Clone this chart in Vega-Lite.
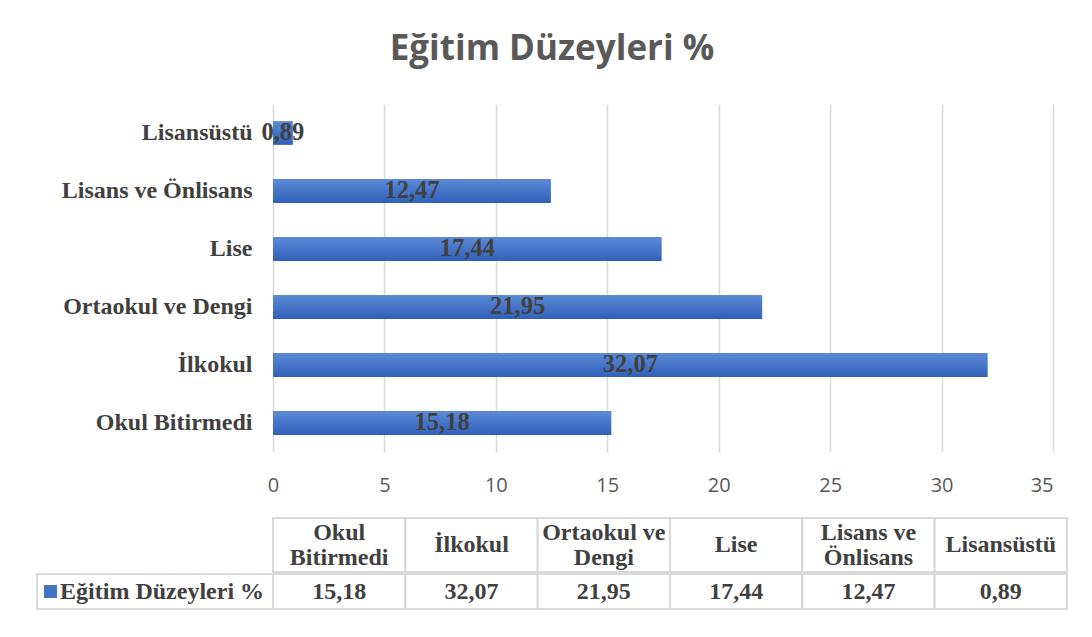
{
  "$schema": "https://vega.github.io/schema/vega-lite/v6.json",
  "background": "white",
  "padding": {"left": 36, "top": 32, "right": 20, "bottom": 20},
  "title": {
    "text": "Eğitim Düzeyleri %",
    "font": "Open Sans",
    "fontSize": 35,
    "fontWeight": "bold",
    "color": "#595959",
    "anchor": "middle",
    "offset": 37
  },
  "datasets": {
    "egitim": [
      {"kategori": "Okul Bitirmedi", "baslik": "Okul\nBitirmedi", "deger": 15.18},
      {"kategori": "İlkokul", "baslik": "İlkokul", "deger": 32.07},
      {"kategori": "Ortaokul ve Dengi", "baslik": "Ortaokul ve\nDengi", "deger": 21.95},
      {"kategori": "Lise", "baslik": "Lise", "deger": 17.44},
      {"kategori": "Lisans ve Önlisans", "baslik": "Lisans ve\nÖnlisans", "deger": 12.47},
      {"kategori": "Lisansüstü", "baslik": "Lisansüstü", "deger": 0.89}
    ],
    "seri": [
      {"seri": "Eğitim Düzeyleri %"}
    ]
  },
  "spacing": 22,
  "vconcat": [
    {
      "width": 1016,
      "height": 348,
      "data": {"name": "egitim"},
      "encoding": {
        "y": {
          "field": "kategori",
          "type": "nominal",
          "sort": ["Lisansüstü", "Lisans ve Önlisans", "Lise", "Ortaokul ve Dengi", "İlkokul", "Okul Bitirmedi"],
          "scale": {"paddingInner": 0.59, "paddingOuter": 0.295},
          "axis": {
            "title": null,
            "domain": false,
            "ticks": false,
            "tickSize": 0,
            "offset": -236,
            "labelFont": "Liberation Serif",
            "labelFontWeight": "bold",
            "labelFontSize": 24,
            "labelColor": "#404040",
            "labelPadding": 21,
            "labelLimit": 0
          }
        }
      },
      "layer": [
        {
          "mark": {
            "type": "bar",
            "color": {
              "gradient": "linear",
              "x1": 0, "y1": 0, "x2": 0, "y2": 1,
              "stops": [
                {"offset": 0, "color": "#5B8AD6"},
                {"offset": 1, "color": "#3160BA"}
              ]
            }
          },
          "encoding": {
            "x": {
              "field": "deger",
              "type": "quantitative",
              "scale": {"domain": [-10.59, 35], "nice": false, "zero": false},
              "axis": {
                "title": null,
                "values": [0, 5, 10, 15, 20, 25, 30, 35],
                "format": "d",
                "domain": false,
                "ticks": false,
                "tickSize": 0,
                "grid": true,
                "gridColor": "#d9d9d9",
                "gridWidth": 1.5,
                "labelFont": "Open Sans",
                "labelFontSize": 20,
                "labelColor": "#595959",
                "labelPadding": 23
              }
            }
          }
        },
        {
          "mark": {
            "type": "text",
            "font": "Liberation Serif",
            "fontWeight": "bold",
            "fontSize": 24.5,
            "color": "#404040",
            "align": "center",
            "baseline": "middle"
          },
          "encoding": {
            "x": {
              "field": "deger",
              "type": "quantitative",
              "scale": {"domain": [-21.18, 70], "nice": false, "zero": false},
              "axis": null
            },
            "text": {"field": "deger", "type": "quantitative", "format": ".2f"}
          }
        }
      ],
      "resolve": {"scale": {"x": "independent"}}
    },
    {
      "spacing": 0,
      "vconcat": [
        {
          "width": 1030,
          "height": 54,
          "data": {"name": "egitim"},
          "encoding": {
            "x": {
              "field": "kategori",
              "type": "nominal",
              "sort": ["Okul Bitirmedi", "İlkokul", "Ortaokul ve Dengi", "Lise", "Lisans ve Önlisans", "Lisansüstü"],
              "scale": {"paddingInner": 0, "paddingOuter": 0.8917, "align": 1},
              "axis": null
            }
          },
          "layer": [
            {
              "mark": {"type": "rect", "fill": "white", "stroke": "#d9d9d9", "strokeWidth": 2}
            },
            {
              "transform": [{"filter": "indexof(datum.baslik, '\\n') < 0"}],
              "mark": {
                "type": "text",
                "font": "Liberation Serif",
                "fontWeight": "bold",
                "fontSize": 24,
                "color": "#404040",
                "align": "center",
                "baseline": "middle"
              },
              "encoding": {"text": {"field": "baslik", "type": "nominal"}}
            },
            {
              "transform": [{"filter": "indexof(datum.baslik, '\\n') >= 0"}],
              "mark": {
                "type": "text",
                "font": "Liberation Serif",
                "fontWeight": "bold",
                "fontSize": 24,
                "color": "#404040",
                "align": "center",
                "baseline": "middle",
                "lineBreak": "\n",
                "lineHeight": 25,
                "dy": -12.5
              },
              "encoding": {"text": {"field": "baslik", "type": "nominal"}}
            }
          ]
        },
        {
          "width": 1030,
          "height": 35,
          "layer": [
            {
              "data": {"name": "egitim"},
              "encoding": {
                "x": {
                  "field": "kategori",
                  "type": "nominal",
                  "sort": ["Okul Bitirmedi", "İlkokul", "Ortaokul ve Dengi", "Lise", "Lisans ve Önlisans", "Lisansüstü"],
                  "scale": {"paddingInner": 0, "paddingOuter": 0.8917, "align": 1},
                  "axis": null
                }
              },
              "layer": [
                {
                  "mark": {"type": "rect", "fill": "white", "stroke": "#d9d9d9", "strokeWidth": 2}
                },
                {
                  "mark": {
                    "type": "text",
                    "font": "Liberation Serif",
                    "fontWeight": "bold",
                    "fontSize": 24,
                    "color": "#404040",
                    "align": "center",
                    "baseline": "middle"
                  },
                  "encoding": {"text": {"field": "deger", "type": "quantitative", "format": ".2f"}}
                }
              ]
            },
            {
              "data": {"name": "seri"},
              "encoding": {
                "x": {
                  "field": "seri",
                  "type": "nominal",
                  "scale": {"domain": ["Eğitim Düzeyleri %", " ", "  "], "paddingInner": 0, "paddingOuter": 0.6822, "align": 0},
                  "axis": null
                }
              },
              "layer": [
                {
                  "mark": {"type": "rect", "fill": "white", "stroke": "#d9d9d9", "strokeWidth": 2}
                },
                {
                  "mark": {"type": "square", "size": 169, "filled": true, "color": "#4472C4", "opacity": 1},
                  "encoding": {"x": {"field": "seri", "type": "nominal", "bandPosition": 0.057}}
                },
                {
                  "mark": {
                    "type": "text",
                    "font": "Liberation Serif",
                    "fontWeight": "bold",
                    "fontSize": 24,
                    "color": "#404040",
                    "align": "center",
                    "baseline": "middle"
                  },
                  "encoding": {
                    "x": {"field": "seri", "type": "nominal", "bandPosition": 0.53},
                    "text": {"field": "seri", "type": "nominal"}
                  }
                }
              ]
            }
          ],
          "resolve": {"scale": {"x": "independent"}}
        }
      ]
    }
  ],
  "config": {
    "view": {"stroke": null},
    "locale": {
      "number": {"decimal": ",", "thousands": ".", "grouping": [3], "currency": ["", " TL"]}
    }
  }
}
